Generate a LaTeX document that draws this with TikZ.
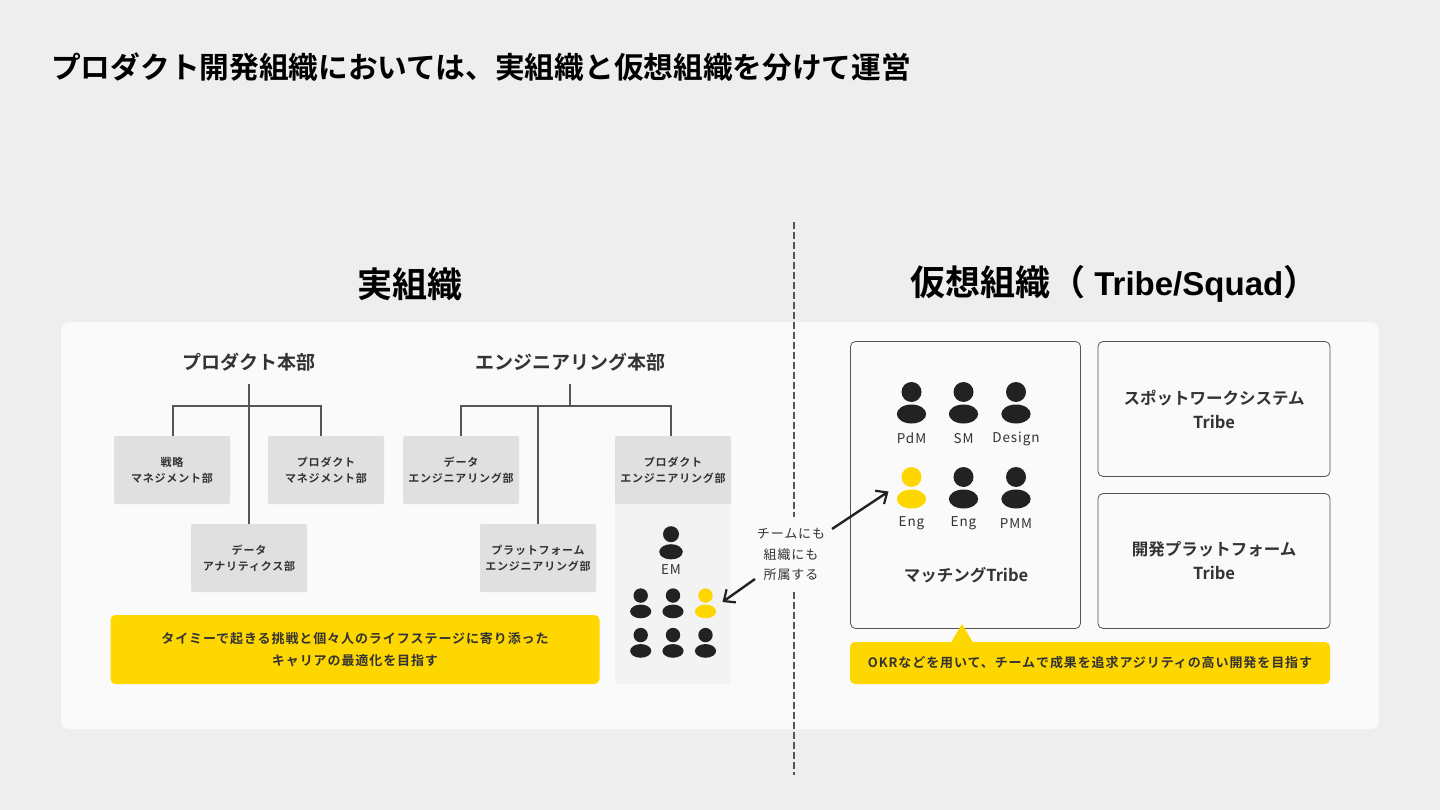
\documentclass[tikz,border=0pt]{standalone}
\usepackage{fontspec}
\usetikzlibrary{arrows.meta}
\setmainfont{Noto Sans CJK JP}[BoldFont=* Bold]
\newfontfamily\lat{Liberation Sans}[BoldFont=* Bold]
\newfontfamily\spaced{Noto Sans CJK JP}[BoldFont=* Bold,LetterSpace=7]
\definecolor{bgc}{HTML}{EEEEEE}
\definecolor{panelc}{HTML}{FAFAFA}
\definecolor{boxc}{HTML}{E0E0E0}
\definecolor{colc}{HTML}{F3F3F3}
\definecolor{ylw}{HTML}{FFD700}
\definecolor{ink}{HTML}{222222}
\definecolor{txt}{HTML}{333333}
\definecolor{linec}{HTML}{555555}
\newcommand{\fs}[1]{\fontsize{#1}{#1}\selectfont}
\tikzset{
  txtnode/.style={inner sep=0pt,align=center,text=txt},
  dept/.style={fill=boxc,rounded corners=2pt,minimum width=116pt,minimum height=68pt,inner sep=0pt,align=center,text=txt,
    font=\spaced\bfseries\fontsize{11}{16}\selectfont},
  tribe/.style={draw=linec,fill=panelc,line width=0.8pt,rounded corners=5pt,inner sep=0pt,align=center,text=txt,
    font=\bfseries\fontsize{16.5}{24}\selectfont},
  hq/.style={inner sep=0pt,minimum height=44pt,text=txt,font=\bfseries\fs{19}},
  banner/.style={fill=ylw,rounded corners=5pt,inner sep=0pt,align=center,text=txt,
    font=\spaced\bfseries\fontsize{13}{22}\selectfont},
  wire/.style={draw=linec,line width=1.2pt},
  role/.style={inner sep=0pt,text=txt,font=\spaced\fs{13.5}},
  pointer/.style={draw=ink,line width=2.4pt,-{Straight Barb[length=9pt,width=16pt,line width=2.2pt]}},
  pics/person/.style={code={
    \fill[#1] (0,-11) circle[radius=10];
    \fill[#1] (0,11) ellipse[x radius=14.7,y radius=9.5];
  }},
}
\begin{document}
\begin{tikzpicture}[x=1pt,y=-1pt]
\useasboundingbox (0,0) rectangle (1440,810);
\fill[bgc] (0,0) rectangle (1440,810);
\fill[panelc,rounded corners=8pt] (61,322) rectangle (1379,729);

\node[anchor=west,inner sep=0pt,text=black,font=\bfseries\fs{29.7}] (title) at (51,67) {プロダクト開発組織においては、実組織と仮想組織を分けて運営};
\node[inner sep=0pt,text=black,font=\bfseries\fs{35}] (real) at (410,284) {実組織};
\node[anchor=west,inner sep=0pt,text=black,font=\bfseries\fs{35}] (virt) at (910,284) {仮想組織（{\lat\bfseries\fs{33} Tribe/Squad}）};

\coordinate (dtop) at (794,222);
\coordinate (dbot) at (794,775);
\draw[draw=linec,line width=2pt,dash pattern=on 7pt off 3pt] (dtop) -- (dbot);

% left: product HQ
\node[hq] (hq1) at (249,362) {プロダクト本部};
\node[dept] (b1) at (172,470) {戦略\\マネジメント部};
\node[dept] (b2) at (326,470) {プロダクト\\マネジメント部};
\node[dept] (b3) at (249,558) {データ\\アナリティクス部};
\coordinate (bus1) at (249,406);
\draw[wire] (hq1.south) -- (b3.north);
\draw[wire] ([xshift=1pt]b1.north) |- (bus1) -| ([xshift=-5pt]b2.north);

% left: engineering HQ
\node[hq] (hq2) at (570,362) {エンジニアリング本部};
\fill[colc,rounded corners=2pt] (615,500) rectangle (731,684);
\node[dept] (b4) at (461,470) {データ\\エンジニアリング部};
\node[dept] (b5) at (538,558) {プラットフォーム\\エンジニアリング部};
\node[dept] (b6) at (673,470) {プロダクト\\エンジニアリング部};
\coordinate (bus2) at (570,406);
\coordinate (bus3) at (538,406);
\draw[wire] (hq2.south) -- (bus2);
\draw[wire] (b4.north) |- (bus2) -| ([xshift=-2pt]b6.north);
\draw[wire] (bus3) -- (b5.north);

% team in column
\pic at (671,543) [scale=0.8] {person=ink};
\node[role] (em) at (671,570) {EM};
\pic at (640.7,603.5) [scale=0.72] {person=ink};
\pic at (673,603.5) [scale=0.72] {person=ink};
\pic at (705.5,603.5) [scale=0.72] {person=ylw};
\pic at (640.7,643) [scale=0.72] {person=ink};
\pic at (673,643) [scale=0.72] {person=ink};
\pic at (705.5,643) [scale=0.72] {person=ink};

\node[banner,minimum width=489pt,minimum height=69pt] (goal1) at (355,649.5) {タイミーで起きる挑戦と個々人のライフステージに寄り添った\\キャリアの最適化を目指す};

% right
\node[tribe,minimum width=230pt,minimum height=287pt] (t1) at (965.5,485) {};
\node[tribe,minimum width=232pt,minimum height=135pt] (t2) at (1214,409) {スポットワークシステム\\Tribe};
\node[tribe,minimum width=232pt,minimum height=135pt] (t3) at (1214,561) {開発プラットフォーム\\Tribe};
\node[inner sep=0pt,text=txt,font=\bfseries\fs{16.5}] (t1lab) at (966,575) {マッチングTribe};

\pic at (911.5,403) {person=ink};
\pic at (963.5,403) {person=ink};
\pic at (1016,403) {person=ink};
\pic at (911.5,488) {person=ylw};
\pic at (963.5,488) {person=ink};
\pic at (1016,488) {person=ink};
\node[role] (r1) at (911.5,438.5) {PdM};
\node[role] (r2) at (963.5,438.5) {SM};
\node[role] (r3) at (1016,438.5) {Design};
\node[role] (r4) at (911.5,523.5) {Eng};
\node[role] (r5) at (963.5,523.5) {Eng};
\node[role] (r6) at (1016,523.5) {PMM};

\node[banner,minimum width=480pt,minimum height=42pt] (goal2) at (1090,663) {OKRなどを用いて、チームで成果を追求アジリティの高い開発を目指す};
\fill[ylw] (951,642.5) -- (962,624) -- (973,642.5) -- cycle;

% shared label and arrows
\node[fill=panelc,inner sep=0pt,minimum height=75pt,minimum width=72pt,align=center,text=txt,font=\spaced\fontsize{13}{20.5}\selectfont] (both) at (791,554.5) {チームにも\\組織にも\\所属する};
\coordinate (a1) at (755,579);
\coordinate (a2) at (722.5,602);
\coordinate (a3) at (832,529);
\coordinate (a4) at (888.5,491.5);
\draw[pointer] (a1) -- (a2);
\draw[pointer] (a3) -- (a4);
\end{tikzpicture}
\end{document}
